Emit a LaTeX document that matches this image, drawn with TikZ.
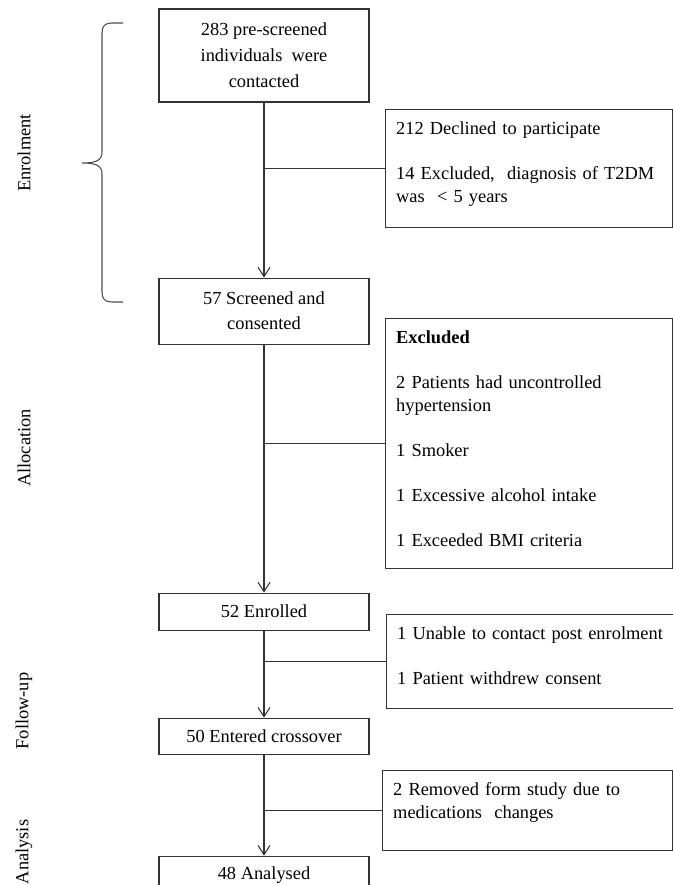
\documentclass[tikz,border=0pt]{standalone}
\usepackage{fontspec}
\setmainfont{Liberation Serif}
\usetikzlibrary{arrows.meta}
\usetikzlibrary{positioning}

\begin{document}
\begin{tikzpicture}[x=0.75pt,y=-0.75pt,line width=0.8pt,
		font=\fontsize{13.8pt}{17.25pt}\selectfont,
		flowbox/.style={draw=black!80,rectangle,minimum width=157.5pt,align=center,inner sep=2pt},
		sidebox/.style={draw=black!80,rectangle,anchor=north west,minimum width=215.25pt},
		sidetext/.style={anchor=north west,text width=205pt,align=left,inner xsep=8pt,inner ysep=9pt},
		stage/.style={rotate=90,anchor=center},
		arr/.style={draw=black!80,-{Straight Barb[length=7pt,width=9pt]}}]
		\useasboundingbox (0,0) rectangle (673,885);
		% main chain
		\node (b1) [flowbox,minimum height=69.75pt,font=\fontsize{13.8pt}{19.5pt}\selectfont] at (264,55.5) {283 pre-screened\\individuals\ \ were\\contacted};
		\node (b2) [flowbox,minimum height=49.5pt,below=131.25pt of b1,font=\fontsize{13.8pt}{18.75pt}\selectfont] {57 Screened and\\consented};
		\node (b3) [flowbox,minimum height=27.75pt,below=186pt of b2] {52 Enrolled};
		\node (b4) [flowbox,minimum height=27pt,below=65.25pt of b3] {50 Entered crossover};
		\node (b5) [flowbox,minimum height=28pt,below=75.75pt of b4] {48 Analysed};
		% exclusion boxes
		\node (s1) [sidebox,minimum height=88.5pt] at (385,109) {};
		\node (s1t) [sidetext] at (s1.north west) {212 Declined to participate\\[16.5pt]14 Excluded,\ \ diagnosis of T2DM\\was\ \ < 5 years};
		\node (s2) [sidebox,minimum height=187.5pt] at (385,318) {};
		\node (s2t) [sidetext] at (s2.north west) {\textbf{Excluded}\\[16.5pt]2 Patients had uncontrolled\\hypertension\\[16.5pt]1 Smoker\\[16.5pt]1 Excessive alcohol\ intake\\[16.5pt]1 Exceeded BMI criteria};
		\node (s3) [sidebox,minimum height=70.5pt] at (386,614) {};
		\node (s3t) [sidetext] at (s3.north west) {1 Unable to contact post enrolment\\[16.5pt]1 Patient withdrew consent};
		\node (s4) [sidebox,minimum height=60pt,minimum width=217.5pt] at (382,770) {};
		\node (s4t) [sidetext] at (s4.north west) {2 Removed form study due to\\medications\ \ changes};
		% arrows
		\draw[arr] (b1) -- (b2);
		\draw[arr] (b2) -- (b3);
		\draw[arr] (b3) -- (b4);
		\draw[arr] (b4) -- (b5);
		\draw[draw=black!80] (b1.south |- s1.west) -- (s1.west);
		\draw[draw=black!80] (b2.south |- s2.west) -- (s2.west);
		\draw[draw=black!80] (b3.south |- s3.west) -- (s3.west);
		\draw[draw=black!80] (b4.south |- s4.west) -- (s4.west);
		% stages
		\draw[black!70] (123,23) -- (112,23) .. controls (105,23) and (102,26) .. (102,33) -- (102,152) .. controls (102,160) and (97,163) .. (82,163) .. controls (97,163) and (102,166) .. (102,174) -- (102,292) .. controls (102,299) and (105,302) .. (112,302) -- (123,302);
		\node (enrol) [stage] at (24,153) {Enrolment};
		\node (alloc) [stage] at (24,448) {Allocation};
		\node (follow) [stage] at (24,711) {Follow-up};
		\node (anal) [stage] at (24,852) {Analysis};
	\end{tikzpicture}
\end{document}
